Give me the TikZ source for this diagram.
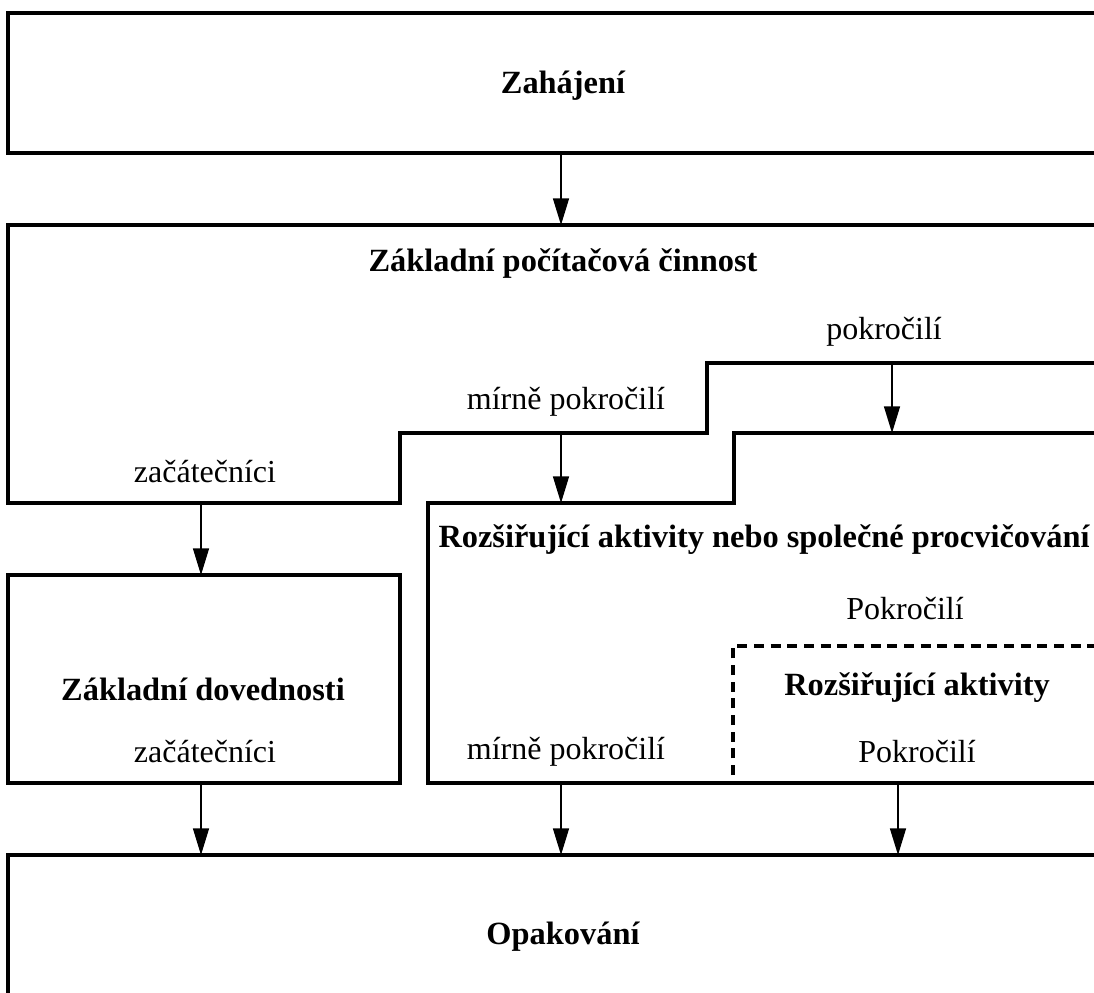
\documentclass[tikz,border=0pt]{standalone}
\usepackage{fontspec}
\setmainfont{Liberation Serif}
\usetikzlibrary{arrows.meta}
\begin{document}
\begin{tikzpicture}[x=0.75pt,y=-0.75pt,
  frame/.style={line width=2.3pt,line join=miter},
  dashframe/.style={line width=2.3pt,dash pattern=on 7.5pt off 5pt},
  conn/.style={line width=1.1pt,-{Triangle[length=20pt,width=12pt]}},
  txt/.style={font=\fontsize{24}{28}\selectfont,inner sep=0pt},
  btxt/.style={font=\fontsize{24.3}{28}\selectfont\bfseries,inner sep=0pt}]
\useasboundingbox (0,0) rectangle (1094,992);
\clip (0,0) rectangle (1094,992);
% boxes
\draw[frame] (1110,13) -- (8,13) -- (8,153) -- (1110,153);
\draw[frame] (1110,225) -- (8,225) -- (8,503) -- (400,503) -- (400,433) -- (707,433) -- (707,363) -- (1110,363);
\draw[frame] (1110,433) -- (734,433) -- (734,503) -- (428,503) -- (428,783) -- (1110,783);
\draw[frame] (8,575) rectangle (400,783);
\draw[dashframe] (733,775) -- (733,646) -- (1110,646);
\draw[frame] (1110,855) -- (8,855) -- (8,1010);
% texts
\node[btxt] (t1) at (563,86) {Zahájení};
\node[btxt] (t2) at (563,264) {Základní počítačová činnost};
\node[txt] (lp) at (884,332) {pokročilí};
\node[txt] (lm) at (566,402) {mírně pokročilí};
\node[txt] (lz) at (205,472) {začátečníci};
\node[btxt] (t3) at (764,540) {Rozšiřující aktivity nebo společné procvičování};
\node[txt] (p1) at (905,609) {Pokročilí};
\node[btxt] (t4) at (203,689) {Základní dovednosti};
\node[btxt] (t5) at (917,688) {Rozšiřující aktivity};
\node[txt] (p2) at (917,752) {Pokročilí};
\node[txt] (z2) at (205,752) {začátečníci};
\node[txt] (m2) at (566,752) {mírně pokročilí};
\node[btxt] (t6) at (563,937) {Opakování};
% connector endpoints
\coordinate (a1s) at (561,153); \coordinate (a1e) at (561,225);
\coordinate (a2s) at (892,363); \coordinate (a2e) at (892,433);
\coordinate (a3s) at (561,433); \coordinate (a3e) at (561,503);
\coordinate (a4s) at (201,503); \coordinate (a4e) at (201,575);
\coordinate (a5s) at (201,783); \coordinate (a5e) at (201,855);
\coordinate (a6s) at (561,783); \coordinate (a6e) at (561,855);
\coordinate (a7s) at (898,783); \coordinate (a7e) at (898,855);
\foreach \i in {1,...,7} {\draw[conn] (a\i s) -- (a\i e);}
\end{tikzpicture}
\end{document}
